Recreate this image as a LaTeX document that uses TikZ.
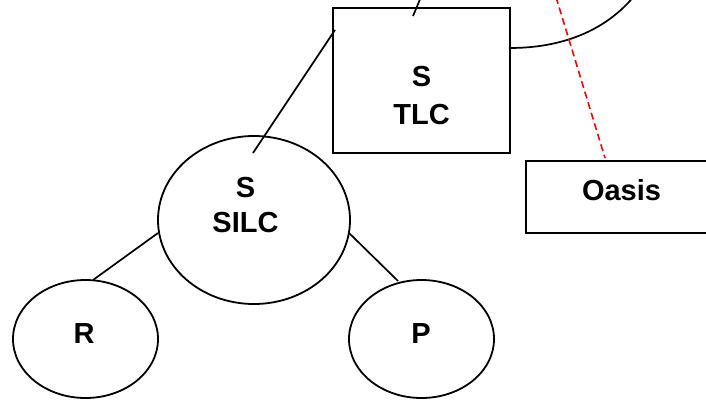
\documentclass[tikz,border=0pt]{standalone}
\usepackage{fontspec}
\setmainfont{Liberation Sans}
\usetikzlibrary{shapes.geometric}
\begin{document}
\begin{tikzpicture}[x=1pt,y=-1pt,
  shapeline/.style={draw=black,line width=1.8pt},
  ell/.style={shapeline,ellipse,inner sep=0pt},
  lbl/.style={anchor=base,inner sep=0pt,font=\fontsize{29}{29}\selectfont\bfseries},
  conn/.style={draw=black,line width=1.7pt},
  reddash/.style={draw=red,line width=1.6pt,dash pattern=on 7pt off 4pt}]
\useasboundingbox (0,0) rectangle (706,399);
\clip (0,0) rectangle (706,399);
\fill[white] (0,0) rectangle (706,399);
% shapes
\node[shapeline,rectangle,minimum width=177pt,minimum height=145pt,inner sep=0pt] (tlc) at (421.5,80.5) {};
\node[shapeline,rectangle,minimum width=200pt,minimum height=72pt,inner sep=0pt,anchor=north west] (oasis) at (525,160) {};
\node[ell,minimum width=192pt,minimum height=168pt] (silc) at (254,220) {};
\node[ell,minimum width=145pt,minimum height=118pt] (r) at (85.5,339) {};
\node[ell,minimum width=145pt,minimum height=118pt] (p) at (421.5,339) {};
% labels
\node[lbl] (tlcS) at (421.5,86) {S};
\node[lbl] (tlcT) at (421.5,124) {TLC};
\node[lbl] (silcS) at (245.5,197) {S};
\node[lbl] (silcT) at (245.5,232) {SILC};
\node[lbl] (oasisT) at (621.5,200) {Oasis};
\node[lbl] (rT) at (84,343) {R};
\node[lbl] (pT) at (421,343) {P};
% connector end points
\coordinate (topIn) at (413,16);
\coordinate (topOut) at (421,-3);
\coordinate (tlcL) at (335,30);
\coordinate (silcTop) at (253,153);
\coordinate (silcL) at (158,233);
\coordinate (rTop) at (93,280);
\coordinate (silcR) at (349,233);
\coordinate (pTop) at (398,281);
\coordinate (arcStart) at (510,48);
\coordinate (arcEnd) at (635,-5);
\coordinate (redTop) at (556,-3);
\coordinate (redBot) at (605,158);
% connectors
\draw[conn] (topIn) -- (topOut);
\draw[conn] (tlcL) -- (silcTop);
\draw[conn] (silcL) -- (rTop);
\draw[conn] (silcR) -- (pTop);
\draw[conn] (arcStart) .. controls (560,48) and (605,32) .. (arcEnd);
\draw[reddash] (redTop) -- (redBot);
\end{tikzpicture}
\end{document}
